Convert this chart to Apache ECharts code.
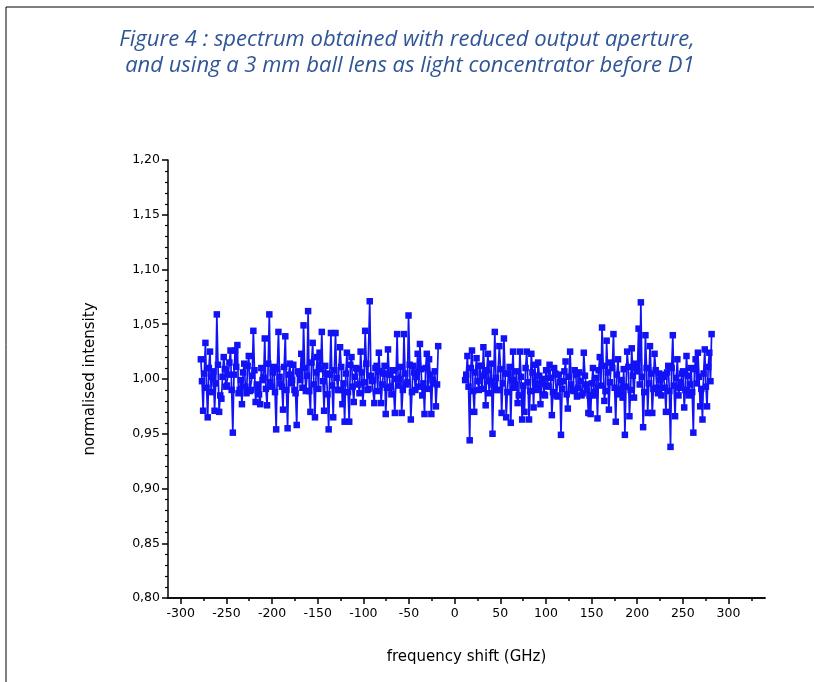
<!DOCTYPE html>
<html>
<head>
<meta charset="utf-8">
<script src="https://cdn.jsdelivr.net/npm/echarts@6/dist/echarts.min.js"></script>
<style>
  html, body { margin: 0; padding: 0; background: #fff; }
  #chart { width: 814px; height: 682px; }
</style>
</head>
<body>
<div id="chart"></div>
<script>
// frequency grid (GHz): first point and spacing of each half of the scan
const leftStart = -278, rightStart = 11.5, freqStep = 1.25

// normalised intensity, negative shifts (the spiky points)
const leftValues = [
  1.018, 0.971, 1.033, 0.965, 1.025, 1.002, 0.971, 1.059, 0.970, 0.982,
  1.020, 0.993, 1.004, 1.026, 0.951, 1.026, 1.031, 0.990, 0.977, 1.014,
  0.987, 1.021, 0.990, 1.044, 0.979, 0.992, 0.977, 0.999, 1.037, 0.976,
  1.059, 0.993, 1.011, 0.954, 1.043, 0.996, 0.972, 1.039, 0.955, 1.014,
  0.999, 0.990, 0.958, 1.005, 1.023, 1.049, 0.989, 1.062, 0.970, 1.033,
  0.965, 1.020, 1.024, 1.043, 0.971, 1.005, 0.954, 1.042, 0.965, 1.042,
  0.990, 1.029, 0.977, 0.961, 1.024, 0.961, 1.020, 0.979, 1.010, 0.995,
  1.025, 0.978, 1.044, 0.990, 1.071, 0.998, 0.978, 1.012, 1.024, 0.978,
  1.005, 0.968, 1.027, 0.993, 1.008, 0.969, 1.041, 1.000, 0.969, 1.041,
  0.995, 1.058, 0.963, 1.012, 0.990, 1.023, 1.032, 0.985, 0.968, 1.023,
  1.018, 0.968, 0.996, 0.975, 1.030
]
// the denser middle band between them
const leftMidValues = [
  0.998, 1.005, 0.992, 1.010, 0.988, 1.007, 0.996, 1.013, 0.985, 1.002,
  1.009, 0.994, 1.015, 0.990, 1.004, 1.011, 0.987, 0.999, 1.006, 0.993,
  1.012, 0.989, 1.003, 1.008, 0.995, 0.986, 1.010, 1.001, 0.991, 1.014,
  0.997, 1.006, 0.988, 1.009, 1.002, 0.993, 1.011, 0.990, 1.004, 0.996,
  1.013, 0.987, 1.007, 0.999, 0.992, 1.010, 1.003, 0.989, 1.015, 0.995,
  1.006, 0.991, 1.009, 0.998, 1.012, 0.986, 1.004, 0.994, 1.008, 1.001,
  0.990, 1.011, 0.996, 1.005, 0.988, 1.013, 0.993, 1.002, 1.009, 0.987,
  1.006, 0.997, 1.014, 0.991, 1.003, 0.999, 1.010, 0.989, 1.007, 0.995,
  1.012, 0.992, 1.004, 0.986, 1.008, 1.000, 0.994, 1.011, 0.990, 1.005,
  0.997, 1.013, 0.988, 1.006, 1.002, 0.993, 1.009, 0.996, 1.010, 0.991,
  1.004, 0.999, 1.007, 0.995
]

// normalised intensity, positive shifts (the spiky points)
const rightValues = [
  0.999, 1.021, 0.944, 1.026, 0.970, 1.019, 0.990, 1.012, 1.029, 0.976,
  1.023, 0.998, 0.950, 1.043, 0.990, 1.030, 0.969, 1.037, 0.965, 1.005,
  0.960, 1.025, 0.995, 0.978, 1.025, 0.963, 0.970, 1.025, 0.963, 1.023,
  0.974, 0.995, 1.015, 0.977, 1.000, 0.985, 0.994, 1.013, 0.967, 1.010,
  0.985, 1.004, 0.949, 0.998, 1.016, 0.973, 1.025, 0.990, 1.008, 0.984,
  1.006, 0.985, 1.024, 0.995, 0.969, 0.968, 1.010, 0.985, 0.964, 1.020,
  1.047, 0.980, 1.035, 0.972, 1.015, 1.041, 0.961, 1.018, 0.990, 0.983,
  0.949, 1.025, 0.966, 1.028, 0.983, 1.010, 1.046, 1.070, 0.956, 1.040,
  0.969, 1.030, 0.969, 1.023, 0.992, 1.005, 0.985, 1.002, 0.970, 1.012,
  0.938, 1.040, 0.966, 1.018, 0.992, 1.005, 0.974, 1.021, 0.985, 1.010,
  0.951, 1.018, 1.024, 0.975, 0.963, 1.027, 0.975, 1.024, 1.041
]
const rightMidValues = [
  1.004, 0.993, 1.010, 0.989, 1.006, 0.998, 1.012, 0.991, 1.003, 1.008,
  0.987, 1.014, 0.995, 1.001, 0.990, 1.009, 0.996, 1.005, 0.988, 1.011,
  0.999, 0.992, 1.007, 0.985, 1.002, 0.994, 1.010, 0.997, 0.989, 1.006,
  1.013, 0.990, 1.003, 0.996, 0.986, 1.008, 0.993, 1.001, 0.988, 1.005,
  0.984, 0.997, 0.991, 1.007, 0.986, 1.002, 0.995, 0.989, 1.004, 0.992,
  0.998, 0.987, 1.003, 0.990, 0.985, 0.996, 0.988, 1.001, 1.008, 0.994,
  1.012, 0.989, 1.006, 0.997, 1.010, 0.992, 1.004, 0.986, 0.999, 1.009,
  0.993, 1.011, 0.990, 1.003, 1.014, 1.007, 0.995, 1.002, 0.988, 1.010,
  0.996, 1.005, 0.991, 1.008, 0.987, 0.999, 1.004, 0.992, 1.006, 0.989,
  1.010, 0.994, 1.001, 0.985, 0.997, 1.007, 0.990, 1.003, 0.995, 0.988,
  1.009, 0.996, 1.002, 0.991, 1.005, 0.993, 1.011, 0.998
]

// tick labels on the frequency axis
const xTicks = [-300, -250, -200, -150, -100, -50, 0, 50, 100, 150, 200, 250, 300]
const xMinorTicks = [-275, -225, -175, -125, -75, -25, 25, 75, 125, 175, 225, 275, 325]

// spiky point, then the middle-band point after it, on a 1.25 GHz grid
const toPairs = (start, peaks, mids) => {
  const out = []
  peaks.forEach((v, i) => {
    out.push([start + 2 * i * freqStep, v])
    if (i < mids.length) out.push([start + (2 * i + 1) * freqStep, mids[i]])
  })
  return out
}

const myChart = echarts.init(document.getElementById('chart'))

const blue = '#1212f6'
const lineSeries = (data) => ({
  type: 'line',
  data,
  symbol: 'rect',
  symbolSize: 6.5,
  lineStyle: { color: blue, width: 1.7 },
  itemStyle: { color: blue },
  animation: false
})

const labelFont = 'DejaVu Sans'

const option = {
  backgroundColor: '#fff',
  title: {
    text: 'Figure 4 : spectrum obtained with reduced output aperture,\n and using a 3 mm ball lens as light concentrator before D1',
    left: 'center',
    top: 22,
    textStyle: {
      fontFamily: 'Open Sans',
      fontStyle: 'italic',
      fontWeight: 'normal',
      fontSize: 22,
      lineHeight: 26,
      color: '#2f5597'
    }
  },
  grid: { left: 168, right: 49, top: 160, bottom: 84 },
  xAxis: [
    {
      type: 'value',
      min: -314,
      max: 340,
      name: 'frequency shift (GHz)',
      nameLocation: 'middle',
      nameGap: 52,
      nameTextStyle: { fontFamily: labelFont, fontSize: 15, color: '#000' },
      axisLine: { onZero: false, lineStyle: { color: '#000', width: 1.5 } },
      axisTick: { customValues: xTicks, length: 6, lineStyle: { color: '#000', width: 1.5 } },
      axisLabel: { customValues: xTicks, fontFamily: labelFont, fontSize: 12.5, color: '#000', margin: 9 },
      splitLine: { show: false }
    },
    {
      // minor ticks only
      type: 'value',
      min: -314,
      max: 340,
      position: 'bottom',
      axisLine: { show: true, onZero: false, lineStyle: { color: '#000', width: 1.5 } },
      axisTick: { show: true, customValues: xMinorTicks, length: 3, lineStyle: { color: '#000', width: 1.5 } },
      axisLabel: { show: false },
      splitLine: { show: false }
    }
  ],
  yAxis: {
    type: 'value',
    min: 0.8,
    max: 1.2,
    interval: 0.05,
    name: 'normalised intensity',
    nameLocation: 'middle',
    nameGap: 70,
    nameTextStyle: { fontFamily: labelFont, fontSize: 15, color: '#000' },
    axisLine: { show: true, onZero: false, lineStyle: { color: '#000', width: 1.5 } },
    axisTick: { show: true, length: 6, lineStyle: { color: '#000', width: 1.5 } },
    minorTick: { show: true, splitNumber: 5, length: 3, lineStyle: { color: '#000', width: 1.2 } },
    axisLabel: {
      fontFamily: labelFont,
      fontSize: 12.5,
      color: '#000',
      margin: 8,
      formatter: (v) => v.toFixed(2).replace('.', ',')
    },
    splitLine: { show: false }
  },
  graphic: [
    {
      type: 'polyline',
      shape: { points: [[6, 682], [6, 7], [814, 7]] },
      style: { stroke: '#000', lineWidth: 1, fill: null },
      silent: true
    }
  ],
  series: [
    lineSeries(toPairs(leftStart, leftValues, leftMidValues)),
    lineSeries(toPairs(rightStart, rightValues, rightMidValues))
  ]
}

myChart.setOption(option)
</script>
</body>
</html>
